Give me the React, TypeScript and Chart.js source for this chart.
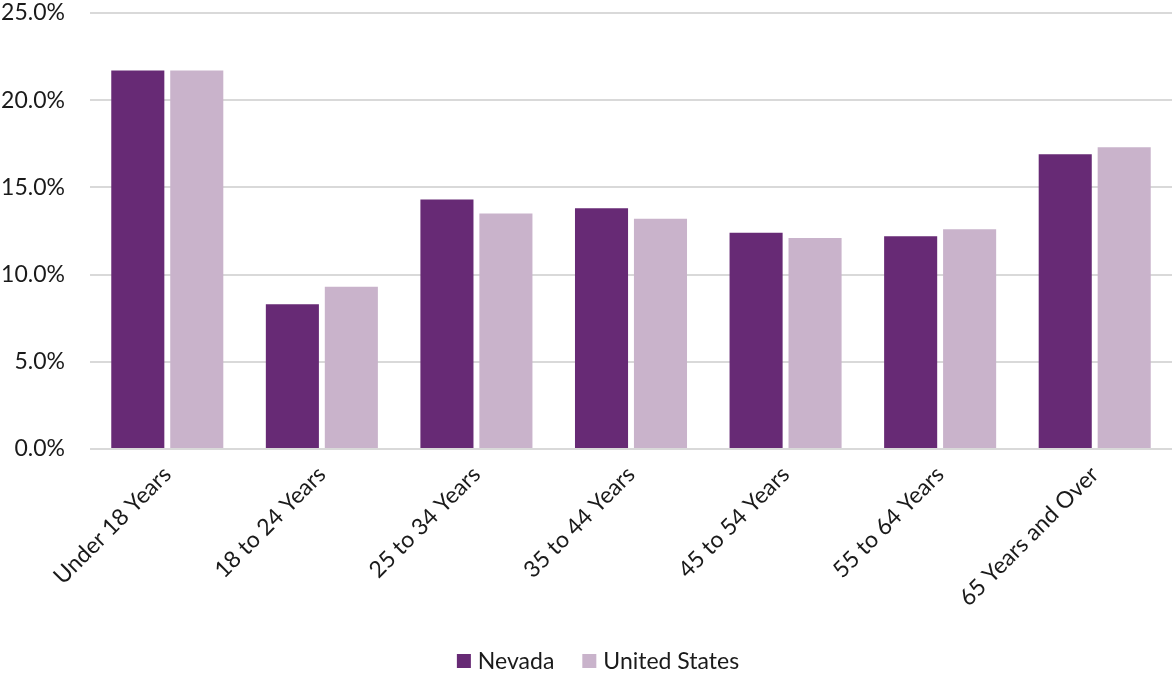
import React, { useEffect, useRef } from "react";
import { Chart, registerables } from "chart.js";

Chart.register(...registerables);

const categories = [
  "Under 18 Years",
  "18 to 24 Years",
  "25 to 34 Years",
  "35 to 44 Years",
  "45 to 54 Years",
  "55 to 64 Years",
  "65 Years and Over",
];
const nevada = [21.7, 8.3, 14.3, 13.8, 12.4, 12.2, 16.9];
const unitedStates = [21.7, 9.3, 13.5, 13.2, 12.1, 12.6, 17.3];
const yTicks = [0, 5, 10, 15, 20, 25];

const FONT = "Lato, 'Open Sans', sans-serif";
const TEXT = "#1a1a1a";

// Legend row drawn under the axis labels: square swatch + series name.
const bottomLegend = {
  id: "bottomLegend",
  afterDraw(chart: any) {
    const ctx = chart.ctx as CanvasRenderingContext2D;
    const items = chart.data.datasets.map((ds: any) => ({
      label: ds.label as string,
      color: ds.backgroundColor as string,
    }));
    const box = 14;
    const gap = 7;
    const spacing = 28;
    ctx.save();
    ctx.font = `23px ${FONT}`;
    ctx.textBaseline = "middle";
    ctx.textAlign = "left";
    const widths = items.map((it: any) => box + gap + ctx.measureText(it.label).width);
    const total = widths.reduce((a: number, b: number) => a + b, 0) + spacing * (items.length - 1);
    let x = 598 - total / 2;
    const cy = 661;
    items.forEach((it: any, i: number) => {
      ctx.fillStyle = it.color;
      ctx.fillRect(x, cy - box / 2, box, box);
      ctx.fillStyle = TEXT;
      ctx.fillText(it.label, x + box + gap, cy + 1);
      x += widths[i] + spacing;
    });
    ctx.restore();
  },
};

export default function App() {
  const canvasRef = useRef<HTMLCanvasElement | null>(null);

  useEffect(() => {
    if (!canvasRef.current) return;
    const chart = new Chart(canvasRef.current, {
      type: "bar",
      data: {
        labels: categories,
        datasets: [
          {
            label: "Nevada",
            data: nevada,
            backgroundColor: "#672a75",
            categoryPercentage: 0.763,
            barPercentage: 0.9,
          },
          {
            label: "United States",
            data: unitedStates,
            backgroundColor: "#c9b3cb",
            categoryPercentage: 0.763,
            barPercentage: 0.9,
          },
        ],
      },
      plugins: [bottomLegend],
      options: {
        animation: false,
        responsive: false,
        layout: { autoPadding: false, padding: { top: 13, right: 0, bottom: 0, left: 0 } },
        plugins: {
          tooltip: { enabled: false },
          legend: { display: false },
        },
        scales: {
          x: {
            grid: { display: false },
            border: { display: false },
            afterFit: (scale: any) => {
              scale.height = 224;
              scale.paddingLeft = 0;
              scale.paddingRight = 0;
            },
            ticks: {
              color: TEXT,
              font: { family: FONT, size: 23 },
              maxRotation: 45,
              minRotation: 45,
              padding: 4,
            },
          },
          y: {
            min: 0,
            max: 25,
            afterBuildTicks: (axis: any) => {
              axis.ticks = yTicks.map((v) => ({ value: v }));
            },
            afterFit: (scale: any) => {
              scale.width = 90;
              scale.paddingTop = 0;
              scale.paddingBottom = 0;
            },
            grid: { color: "#d9d9d9", lineWidth: 2, drawTicks: false },
            border: { display: false },
            ticks: {
              color: TEXT,
              font: { family: FONT, size: 23 },
              padding: 25,
              callback: (v: any) => Number(v).toFixed(1) + "%",
            },
          },
        },
      },
    });
    return () => chart.destroy();
  }, []);

  return (
    <div style={{ position: "fixed", left: 0, top: 0, width: 1172, height: 673, background: "#fff" }}>
      <canvas ref={canvasRef} width={1172} height={673} />
    </div>
  );
}
